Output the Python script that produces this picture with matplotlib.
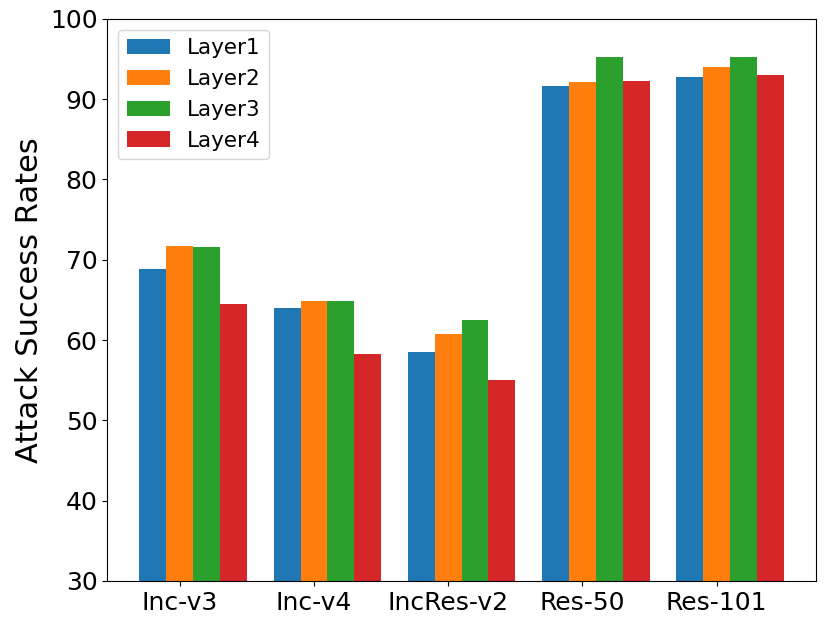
import numpy as np
import matplotlib
matplotlib.use('Agg')
import matplotlib.pyplot as plt

######### DATA ##############
models = ['Inc-v3', 'Inc-v4', 'IncRes-v2', 'Res-50', 'Res-101']
layer1 = [68.8, 64.0, 58.5, 91.7, 92.8]
layer2 = [71.7, 64.9, 60.8, 92.1, 94.0]
layer3 = [71.6, 64.9, 62.5, 95.2, 95.2]
layer4 = [64.5, 58.3, 55.0, 92.3, 93.0]
layer_names = ['Layer1', 'Layer2', 'Layer3', 'Layer4']
#############################

fig = plt.figure(figsize=(8.31, 6.3), dpi=100)
ax = fig.add_axes([0.129, 0.078, 0.853, 0.892])

x = np.arange(len(models))
width = 0.2
for i, vals in enumerate([layer1, layer2, layer3, layer4]):
    ax.bar(x + (i - 1) * width, vals, width, label=layer_names[i])

ax.set_ylim(30, 100)
ax.set_xticks(x)
ax.set_xticklabels(models)
ax.tick_params(labelsize=18)
ax.set_ylabel('Attack Success Rates', fontsize=22)
ax.legend(loc='upper left', fontsize=15.5)

plt.savefig('out.png')
